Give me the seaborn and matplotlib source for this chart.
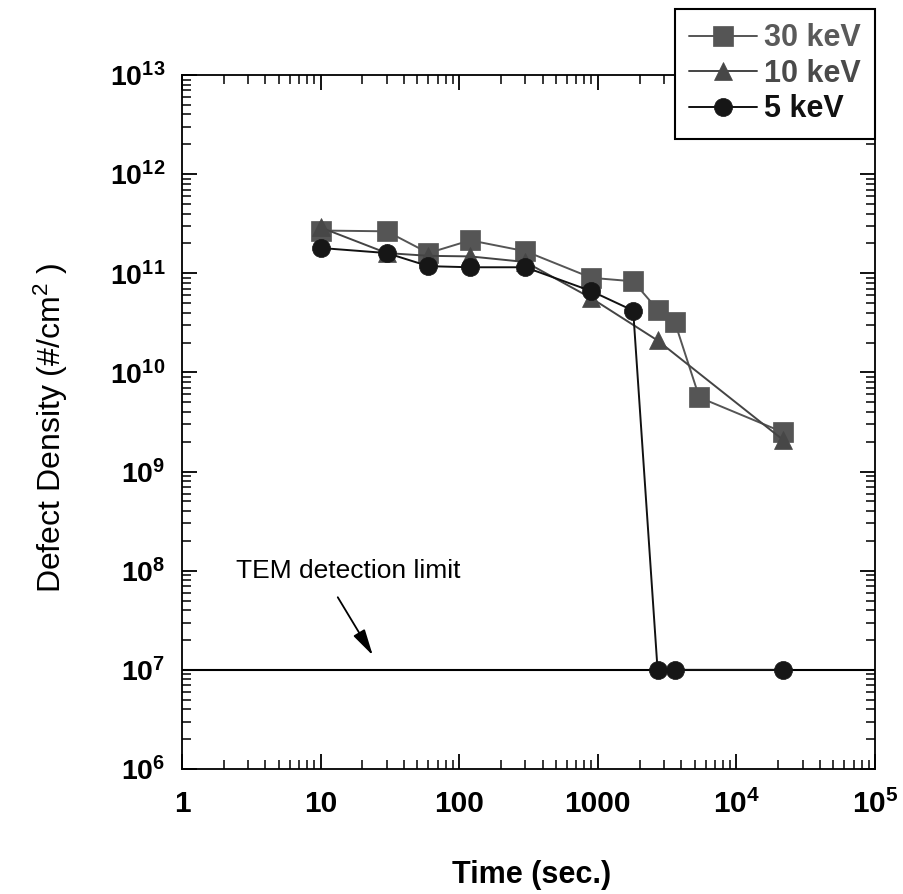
import numpy as np
import pandas as pd
import matplotlib
matplotlib.use("Agg")
import matplotlib.pyplot as plt
from matplotlib.ticker import FixedLocator, FixedFormatter, LogLocator, NullFormatter
import seaborn as sns

# ---------------- data ----------------
time_30kev = [10, 30, 60, 120, 300, 900, 1800, 2700, 3600, 5400, 21600]
dens_30kev = [2.7e11, 2.65e11, 1.6e11, 2.15e11, 1.67e11, 9.0e10, 8.3e10, 4.3e10, 3.2e10, 5.6e9, 2.5e9]

time_10kev = [10, 30, 60, 120, 300, 900, 2700, 21600]
dens_10kev = [2.9e11, 1.6e11, 1.5e11, 1.48e11, 1.3e11, 5.6e10, 2.1e10, 2.1e9]

time_5kev = [10, 30, 60, 120, 300, 900, 1800, 2700, 3600, 21600]
dens_5kev = [1.8e11, 1.6e11, 1.18e11, 1.15e11, 1.15e11, 6.6e10, 4.2e10, 1e7, 1e7, 1e7]

series_labels = ["30 keV", "10 keV", "5 keV"]
detection_limit = 1e7

x_tick_values = [1, 10, 100, 1000, 1e4, 1e5]
x_tick_labels = ["1", "10", "100", "1000", r"$\mathregular{10^{4}}$", r"$\mathregular{10^{5}}$"]
y_tick_values = [1e6, 1e7, 1e8, 1e9, 1e10, 1e11, 1e12, 1e13]
y_tick_labels = [r"$\mathregular{10^{%d}}$" % e for e in range(6, 14)]

# ---------------- style ----------------
sns.set_theme(style="ticks")
plt.rcParams["font.family"] = ["Liberation Sans", "DejaVu Sans"]
plt.rcParams["mathtext.default"] = "regular"

fig = plt.figure(figsize=(9.04, 8.94), dpi=100)
ax = fig.add_axes([182 / 904, 1 - 769 / 894, (875 - 182) / 904, (769 - 75) / 894])

styles = [
    dict(marker="s", color="#555555", mfc="#555555", ms=15, text="#5a5a5a"),
    dict(marker="^", color="#444444", mfc="#474747", ms=12.5, text="#4a4a4a"),
    dict(marker="o", color="#111111", mfc="#161616", ms=13, text="#111111"),
]
datasets = [(time_30kev, dens_30kev), (time_10kev, dens_10kev), (time_5kev, dens_5kev)]

handles = []
for (t, d), lab, st in zip(datasets, series_labels, styles):
    df = pd.DataFrame({"t": t, "d": d})
    sns.lineplot(data=df, x="t", y="d", ax=ax, sort=False, estimator=None,
                 color=st["color"], lw=1.4, marker=st["marker"], markersize=st["ms"],
                 markerfacecolor=st["mfc"], markeredgecolor=st["mfc"], markeredgewidth=0.5,
                 label=lab, legend=False)
    handles.append(ax.lines[-1])

ax.axhline(detection_limit, color="black", lw=1.5, zorder=1)

ax.set_xscale("log")
ax.set_yscale("log")
ax.set_xlim(1, 1e5)
ax.set_ylim(1e6, 1e13)

ax.xaxis.set_major_locator(FixedLocator(x_tick_values))
ax.xaxis.set_major_formatter(FixedFormatter(x_tick_labels))
ax.yaxis.set_major_locator(FixedLocator(y_tick_values))
ax.yaxis.set_major_formatter(FixedFormatter(y_tick_labels))
ax.xaxis.set_minor_locator(LogLocator(base=10, subs=np.arange(2, 10), numticks=20))
ax.yaxis.set_minor_locator(LogLocator(base=10, subs=np.arange(2, 10), numticks=20))
ax.xaxis.set_minor_formatter(NullFormatter())
ax.yaxis.set_minor_formatter(NullFormatter())

ax.tick_params(which="both", direction="in", top=True, right=True, color="black")
ax.tick_params(which="major", length=10.5, width=1.3)
ax.tick_params(which="minor", length=6.5, width=1.1)
ax.tick_params(axis="x", which="major", pad=15)
ax.tick_params(axis="y", which="major", pad=12)
for lbl in ax.get_xticklabels():
    lbl.set_fontsize(21.5)
    lbl.set_fontweight("bold")
    lbl.set_color("black")
for lbl in ax.get_yticklabels():
    lbl.set_fontsize(20.5)
    lbl.set_fontweight("bold")
    lbl.set_color("black")
for sp in ax.spines.values():
    sp.set_linewidth(1.3)
    sp.set_color("black")

ax.set_xlabel("Time (sec.)", fontsize=22, fontweight="bold", color="black")
ax.set_ylabel(r"Defect Density (#/cm$^{2}$ )", fontsize=23, color="black")
ax.xaxis.set_label_coords(0.505, -0.131)
ax.yaxis.set_label_coords(-0.161, 0.491)

ax.text(2.45, 8.4e7, "TEM detection limit", fontsize=19, va="baseline", ha="left", color="black")
ax.annotate("", xy=(23.8, 1.4e7), xytext=(13.3, 5.4e7),
            arrowprops=dict(arrowstyle="-|>,head_length=0.8,head_width=0.2", color="black",
                            lw=1.3, mutation_scale=20, shrinkA=0, shrinkB=0))

leg = ax.legend(handles=handles, labels=series_labels, loc="upper right",
                bbox_to_anchor=(875 / 904, 1 - 9 / 894), bbox_transform=fig.transFigure,
                frameon=True, fancybox=False, framealpha=1, edgecolor="black",
                prop=dict(size=22, weight="bold"), handlelength=2.22, handletextpad=0.23,
                labelspacing=0.18, borderpad=0.47, borderaxespad=0)
leg.get_frame().set_linewidth(1.5)
for txt, st in zip(leg.get_texts(), styles):
    txt.set_color(st["text"])
ax.set_facecolor("white")

fig.savefig("out.png", dpi=100, facecolor="white")
